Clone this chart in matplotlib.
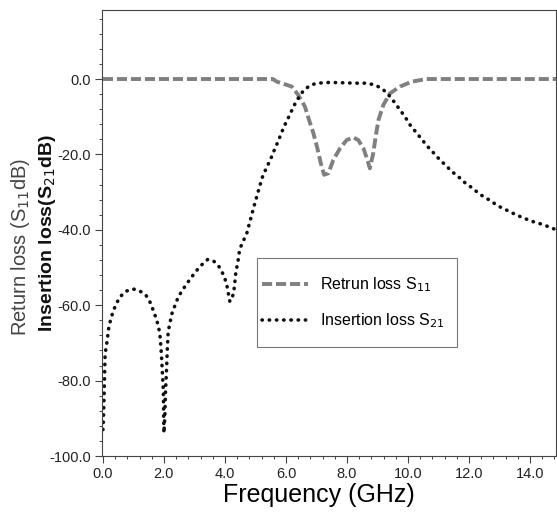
import numpy as np
import matplotlib.pyplot as plt
from matplotlib.ticker import MultipleLocator, FormatStrFormatter
from matplotlib.patches import Rectangle
from matplotlib import font_manager

# font: narrow Arial look-alike if present
try:
    font_manager.findfont('Liberation Sans Narrow', fallback_to_default=False)
    narrow = 'Liberation Sans Narrow'
except Exception:
    narrow = 'Liberation Sans'

# Return loss S11 (dB)
f_s11 = [0.0, 1.0, 2.0, 3.0, 4.0, 5.0, 5.57, 5.7, 6.19, 6.40, 6.62, 6.79, 6.90, 7.03,
         7.14, 7.25, 7.39, 7.55, 7.77, 7.99, 8.21, 8.37, 8.54, 8.67, 8.75, 8.86,
         8.94, 9.03, 9.19, 9.41, 9.74, 10.12, 10.6, 11.0, 12.0, 13.0, 14.0, 15.0]
s11 = [0.0, 0.0, 0.0, 0.0, 0.0, 0.0, 0.0, -0.7, -2.0, -4.2, -7.3, -11.7, -14.4, -18.4,
       -22.3, -25.4, -25.0, -21.5, -18.4, -16.2, -15.5, -16.2, -18.4, -21.5, -23.7, -19.7,
       -15.3, -10.9, -6.9, -3.8, -2.0, -0.7, 0.0, 0.0, 0.0, 0.0, 0.0, 0.0]

# Insertion loss S21 (dB)
f_s21 = [0.0, 0.01, 0.04, 0.07, 0.10, 0.15, 0.17, 0.23, 0.31, 0.42, 0.56, 0.75, 0.99,
         1.18, 1.40, 1.56, 1.67, 1.77, 1.84, 1.88, 1.92, 1.95, 1.98, 2.0, 2.03, 2.05,
         2.09, 2.11, 2.14, 2.20, 2.25, 2.36, 2.47, 2.63, 2.83, 3.02, 3.21, 3.43, 3.62,
         3.80, 3.97, 4.06, 4.11, 4.16, 4.24, 4.30, 4.33, 4.36, 4.42, 4.46, 4.49, 4.72,
         4.92, 5.15, 5.24, 5.37, 5.50, 5.62, 5.75, 5.86, 5.99, 6.13, 6.26, 6.43, 6.59,
         6.81, 7.03, 7.44, 7.88, 8.26, 8.65, 8.92, 9.14, 9.32, 9.52, 9.72, 9.90, 10.07,
         10.25, 10.45, 10.64, 10.85, 11.05, 11.25, 11.43, 11.65, 11.85, 12.07, 12.27,
         12.47, 12.69, 12.90, 13.10, 13.32, 13.53, 13.74, 13.95, 14.16, 14.38, 14.58,
         14.76, 15.0]
s21 = [-93.0, -92.1, -84.0, -73.6, -71.3, -69.1, -66.9, -64.6, -62.3, -59.9, -57.8, -56.3,
       -55.7, -56.1, -57.2, -59.4, -61.8, -64.1, -66.5, -68.7, -73.4, -78.0, -82.4, -93.9,
       -89.4, -83.3, -76.2, -71.8, -66.9, -64.7, -62.5, -60.1, -57.8, -55.7, -53.4, -51.3,
       -49.5, -47.9, -48.2, -49.7, -52.2, -54.6, -56.8, -59.0, -58.1, -55.7, -53.5, -51.0,
       -48.8, -46.4, -45.0, -40.8, -34.7, -28.1, -25.7, -23.4, -21.2, -18.8, -16.4, -14.1,
       -11.7, -9.4, -7.1, -4.7, -2.9, -1.6, -1.1, -0.9, -1.0, -1.1, -1.1, -1.6, -2.5, -3.8,
       -5.8, -8.0, -10.0, -12.2, -14.0, -16.0, -17.9, -19.7, -21.5, -23.0, -24.5, -25.9,
       -27.4, -28.7, -30.0, -31.2, -32.2, -33.4, -34.3, -35.1, -36.0, -36.7, -37.4, -38.0,
       -38.5, -39.1, -39.7, -40.2]

fig = plt.figure(figsize=(5.57, 5.22), dpi=100)
fig.patch.set_facecolor('white')
ax = fig.add_axes([0.1831, 0.1264, 0.8151, 0.8544])

ax.plot(f_s11, s11, color='#808080', linewidth=2.8, dashes=(2.6, 1.0),
        dash_capstyle='butt', label='Retrun loss S$_{11}$')
ax.plot(f_s21, s21, color='#111111', linewidth=2.6, linestyle=(0, (0.1, 1.9)),
        dash_capstyle='round', label='Insertion loss S$_{21}$')

ax.set_xlim(-0.03, 14.85)
ax.set_ylim(-100, 18.3)
ax.xaxis.set_major_locator(MultipleLocator(2))
ax.xaxis.set_minor_locator(MultipleLocator(0.4))
ax.yaxis.set_major_locator(MultipleLocator(20))
ax.yaxis.set_minor_locator(MultipleLocator(4))
ax.xaxis.set_major_formatter(FormatStrFormatter('%.1f'))
ax.yaxis.set_major_formatter(FormatStrFormatter('%.1f'))
ax.tick_params(which='major', direction='out', length=5, width=0.8, color='#444444',
               labelsize=10.5, labelcolor='#222222', pad=3)
ax.tick_params(which='minor', direction='out', length=2.5, width=0.7, color='#444444')
for lab in ax.get_xticklabels() + ax.get_yticklabels():
    lab.set_family(narrow)
for sp in ax.spines.values():
    sp.set_linewidth(0.8)
    sp.set_color('#444444')

ax.set_xlabel('Frequency (GHz)', fontsize=18, family='Liberation Sans')
ax.xaxis.set_label_coords(0.478, -0.087)
ax.xaxis.label.set_va('center')

fig.text(0.037, 0.527, 'Return loss (S$_{11}$dB)', rotation=90, ha='center', va='center',
         fontsize=14.5, family='Liberation Sans', color='#444444')
fig.text(0.085, 0.554, 'Insertion loss(S$_{21}$dB)', rotation=90, ha='center', va='center',
         fontsize=14, family='Liberation Sans', fontweight='bold', color='#111111')

# legend box drawn as a plain frame, entries placed inside
ax.add_patch(Rectangle((0.341, 0.244), 0.441, 0.2, transform=ax.transAxes,
                       fill=False, edgecolor='#777777', linewidth=0.8, zorder=4))
leg = ax.legend(loc='center left', bbox_to_anchor=(0.341, 0.344), borderaxespad=0,
                frameon=False, handlelength=2.9, handletextpad=0.75, labelspacing=1.1,
                borderpad=0.3, prop={'family': narrow, 'size': 11.5})

plt.savefig('out.png', dpi=100)
